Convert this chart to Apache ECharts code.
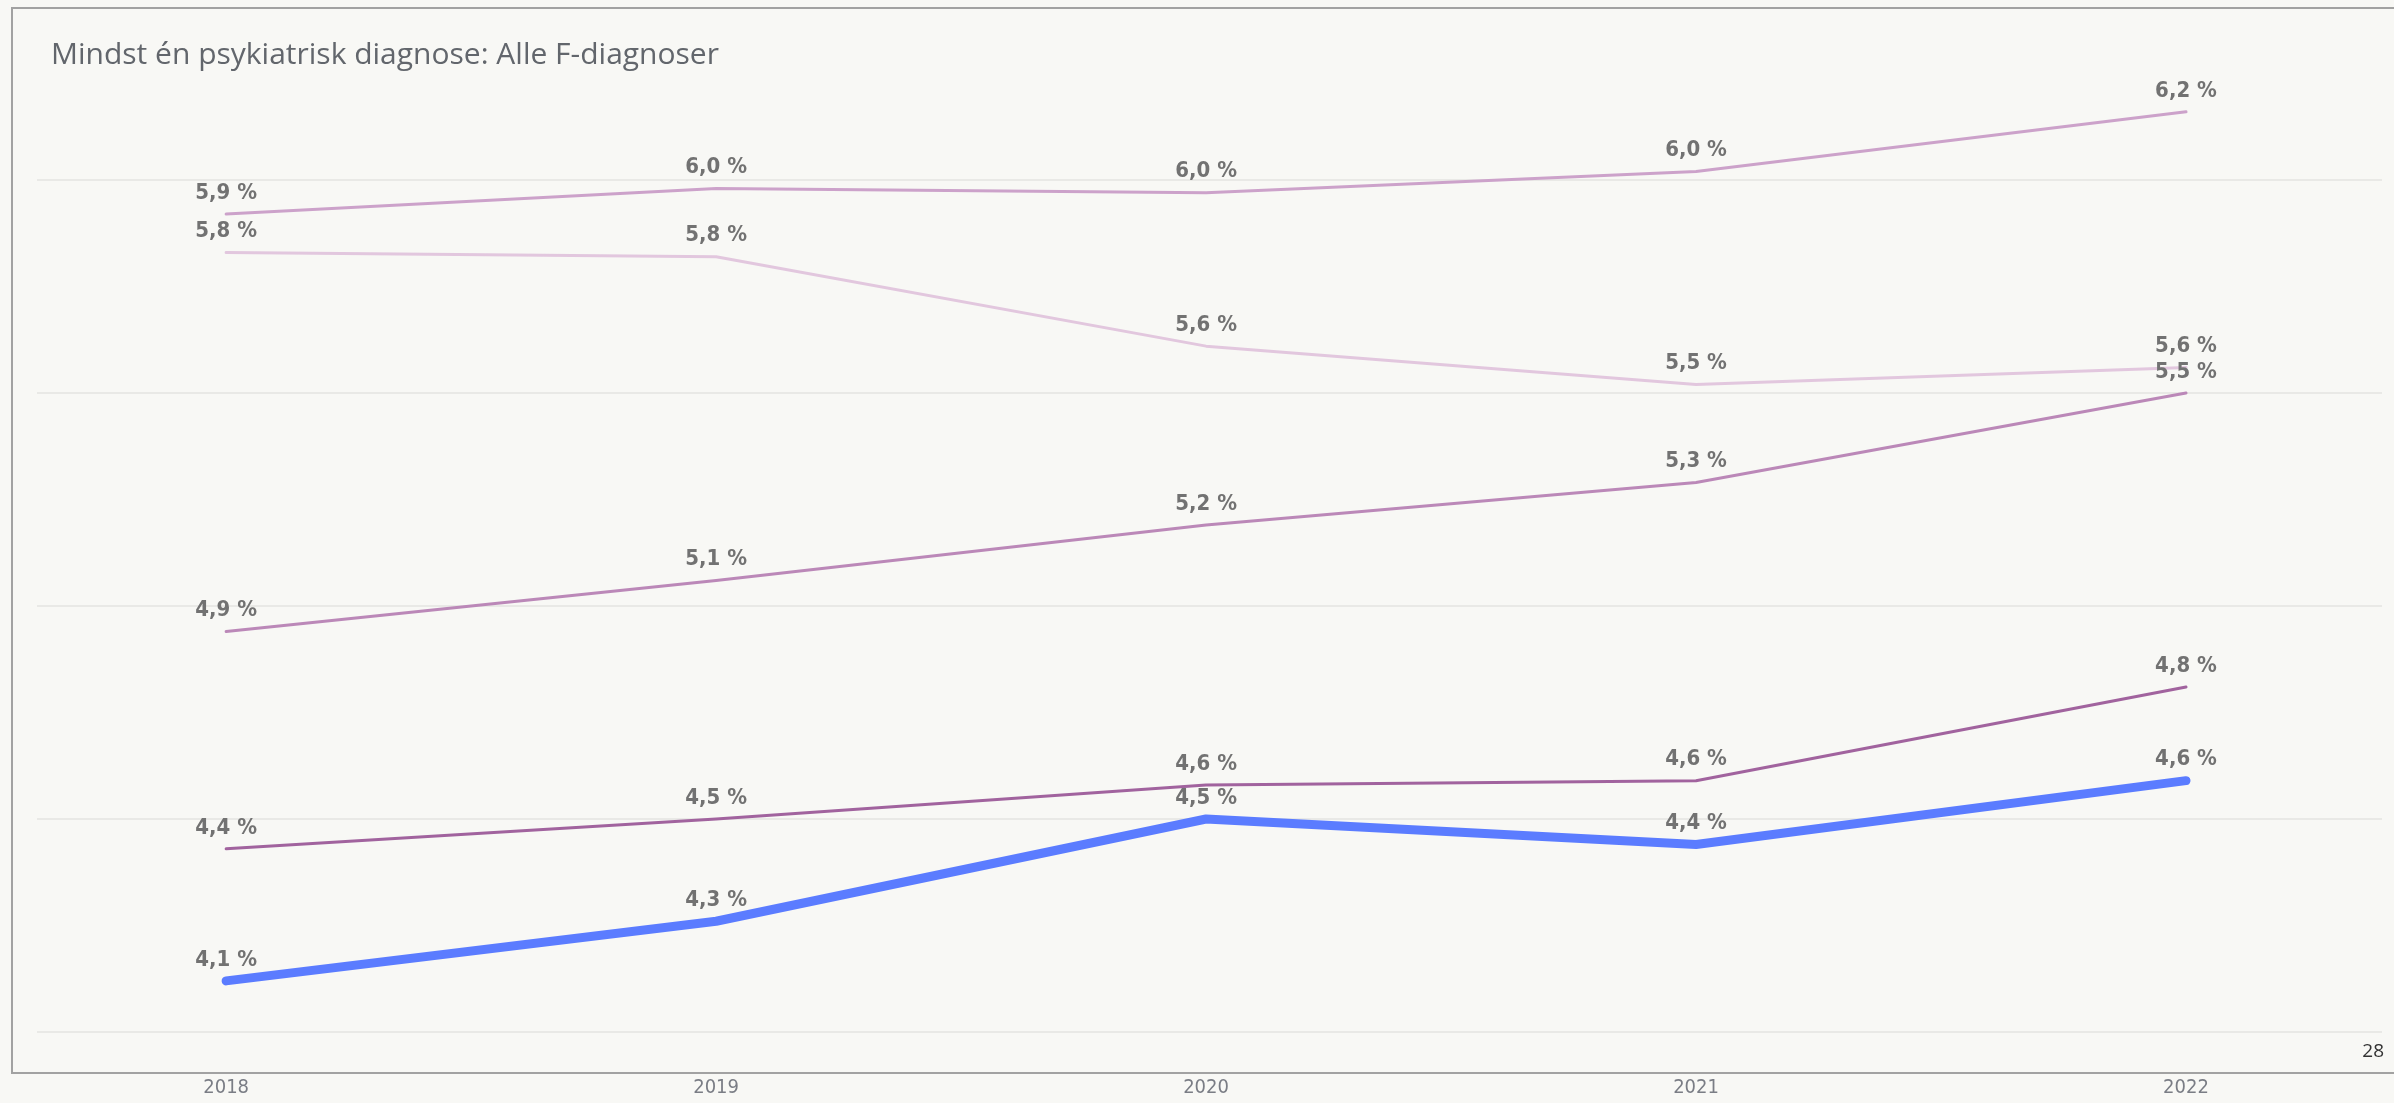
<!DOCTYPE html>
<html lang="da">

<head>
    <meta charset="UTF-8">
    <title>Mindst én psykiatrisk diagnose</title>
    <style>
        * {
            margin: 0;
            padding: 0;
        }

        body {
            background: #f8f8f5;
        }
    </style>
    <script src="https://cdn.jsdelivr.net/npm/echarts@6/dist/echarts.min.js"></script>
</head>

<body>
    <div id="chart" style="width: 2394px;height: 1103px;"></div>
    <script>
        // years on the x axis
        var years = [2018, 2019, 2020, 2021, 2022]
        // values (percent)
        var topLine = [5.92, 5.98, 5.97, 6.02, 6.16]
        var paleLine = [5.83, 5.82, 5.61, 5.52, 5.56]
        var midLine = [4.94, 5.06, 5.19, 5.29, 5.50]
        var darkLine = [4.43, 4.50, 4.58, 4.59, 4.81]
        var blueLine = [4.12, 4.26, 4.50, 4.44, 4.59]

        var chart = echarts.init(document.getElementById('chart'))

        function pairs(vals) {
            return years.map((y, i) => [y, vals[i]])
        }

        function line(vals, color, width, z) {
            return {
                type: 'line',
                data: pairs(vals),
                symbol: 'circle',
                symbolSize: 0,
                clip: false,
                z: z,
                lineStyle: {
                    color: color,
                    width: width,
                    cap: 'round',
                    join: 'round'
                },
                itemStyle: {
                    color: color
                },
                label: {
                    show: true,
                    position: 'top',
                    distance: 10,
                    fontFamily: 'DejaVu Sans Condensed',
                    fontWeight: 'bold',
                    fontSize: 22,
                    color: '#727272',
                    formatter: (p) => p.value[1].toFixed(1).replace('.', ',') + ' %'
                },
                emphasis: { disabled: true }
            }
        }

        var option = {
            backgroundColor: '#f8f8f5',
            animation: false,
            title: {
                text: 'Mindst én psykiatrisk diagnose: Alle F-diagnoser',
                left: 46,
                top: 35,
                textStyle: {
                    fontFamily: 'Open Sans',
                    fontWeight: 'normal',
                    fontSize: 30,
                    color: '#62666c'
                }
            },
            graphic: [{
                type: 'rect',
                shape: { x: 12, y: 8, width: 2400, height: 1065 },
                style: { fill: null, stroke: '#a2a2a2', lineWidth: 2 },
                z: -1
            }, {
                type: 'text',
                right: 10,
                top: 1042,
                style: {
                    text: '28',
                    fontFamily: 'Open Sans',
                    fontSize: 19,
                    fill: '#333'
                }
            }],
            grid: {
                left: 37,
                right: 12,
                top: 180,
                bottom: 71
            },
            xAxis: {
                type: 'value',
                min: 2017.614,
                max: 2022.4,
                axisLine: { show: false },
                axisTick: { show: false },
                splitLine: { show: false },
                axisLabel: {
                    customValues: years,
                    margin: 46,
                    fontFamily: 'DejaVu Sans Condensed',
                    fontSize: 20,
                    color: '#7a7d85',
                    formatter: (v) => String(v)
                }
            },
            yAxis: {
                type: 'value',
                min: 4,
                max: 6,
                interval: 0.5,
                axisLabel: { show: false },
                axisLine: { show: false },
                axisTick: { show: false },
                splitLine: {
                    lineStyle: { color: '#e9e9e6', width: 2 }
                }
            },
            series: [
                line(paleLine, '#e2c7de', 3, 2),
                line(topLine, '#cca2ca', 3, 3),
                line(midLine, '#bb88b8', 3, 4),
                line(darkLine, '#a1639e', 3, 5),
                line(blueLine, '#5b7cff', 9, 6)
            ]
        }
        chart.setOption(option)
    </script>
</body>

</html>
